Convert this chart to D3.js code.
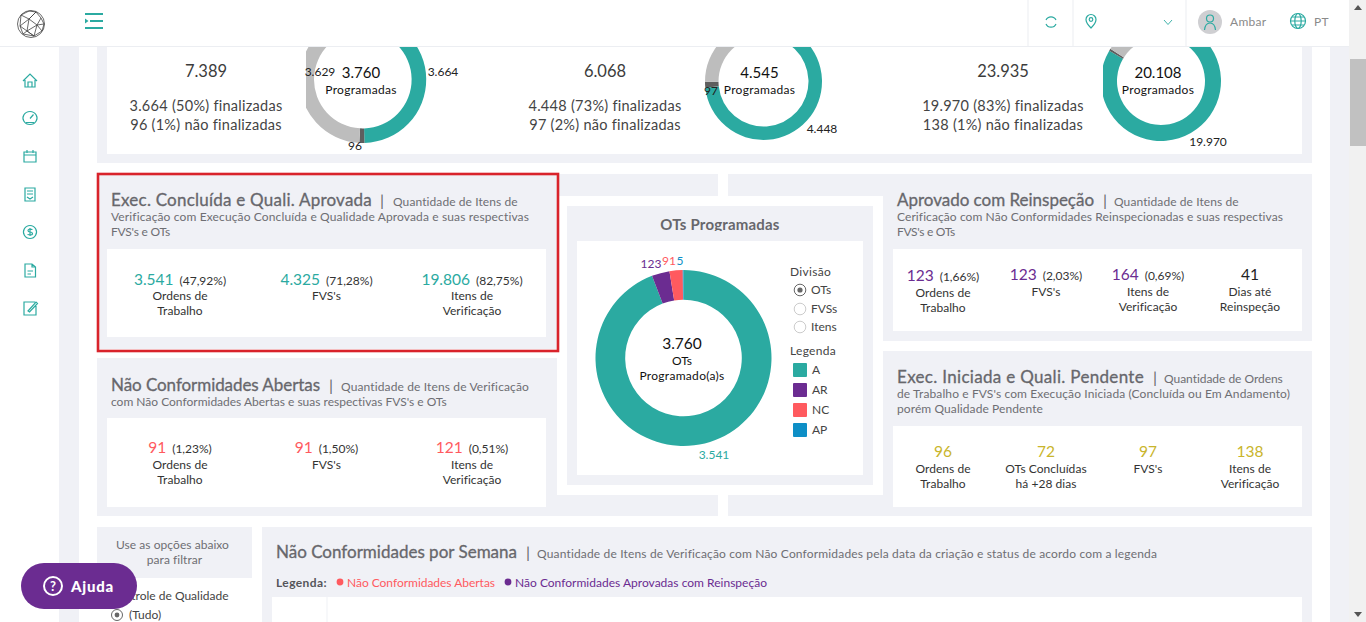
<!DOCTYPE html>
<html lang="pt">
<head>
<meta charset="utf-8">
<script src="https://cdn.jsdelivr.net/npm/d3@7"></script>
<style>
html,body{margin:0;padding:0;background:#fff;overflow:hidden}
svg{display:block}
text{font-family:Lato,"Noto Sans",sans-serif}
</style>
</head>
<body>
<svg id="c" width="1366" height="622"></svg>
<script>
// ---------- data ----------
const statusColors = ["#2BAAA1","#5E5E5E","#BDBDBD"];
const donutFirst = [3664, 96, 3629];
const donutSecond = [4448, 97, 1523];
const donutThird = [19970, 138, 3827];
const mainCategories = ["A","AR","NC","AP"];
const mainValues = [3541, 123, 91, 5];
const mainColors = ["#2BAAA1","#6B2C91","#FF5A5F","#0E8FC6"];
const divisionOptions = ["OTs","FVSs","Itens"];
const summaryTotals = ["7.389","6.068","23.935"];
const summaryDone = ["3.664 (50%) finalizadas","4.448 (73%) finalizadas","19.970 (83%) finalizadas"];
const summaryOpen = ["96 (1%) não finalizadas","97 (2%) não finalizadas","138 (1%) não finalizadas"];
const execValues = ["3.541","4.325","19.806"];
const execPercents = ["(47,92%)","(71,28%)","(82,75%)"];
const openValues = ["91","91","121"];
const openPercents = ["(1,23%)","(1,50%)","(0,51%)"];
const reinspValues = ["123","123","164","41"];
const reinspPercents = ["(1,66%)","(2,03%)","(0,69%)",""];
const pendingValues = ["96","72","97","138"];
const labelsThree = [["Ordens de","Trabalho"],["FVS's"],["Itens de","Verificação"]];
const labelsReinsp = [["Ordens de","Trabalho"],["FVS's"],["Itens de","Verificação"],["Dias até","Reinspeção"]];
const labelsPending = [["Ordens de","Trabalho"],["OTs Concluídas","há +28 dias"],["FVS's"],["Itens de","Verificação"]];

const PANEL="#F0F1F6", TEAL="#2BAAA1", PURPLE="#6B2C91", RED="#FF5A5F", YELLOW="#C9B52C", INK="#333", MUTED="#6E6E73";
const svg=d3.select("#c");
const defs=svg.append("defs");
let clipId=0;
function box(x0,y0,x1,y1,fill,parent){return (parent||svg).append("rect").attr("x",x0).attr("y",y0).attr("width",x1-x0).attr("height",y1-y0).attr("fill",fill);}
function txt(x,y,s,o={}){
  const t=(o.parent||svg).append("text").attr("x",x).attr("y",y).attr("text-anchor",o.a||"start")
   .attr("font-size",o.size||12).attr("font-weight",o.w||400).attr("fill",o.c||INK).text(s);
  if(o.ls!==undefined) t.style("letter-spacing",o.ls+"px");
  if(o.fit){ const n=t.node().getComputedTextLength(); t.style("letter-spacing",((o.fit-n)/s.length)+"px"); }
  return t;
}
// page background
box(59,46,79,622,PANEL);
box(1330,46,1349,622,PANEL);
// panels
box(97,46,1312,163,PANEL); box(107,46,1302,154,"#fff");
box(97,174,718,349,PANEL); box(107,249,546,337,"#fff");
box(97,358,718,516,PANEL); box(107,418,546,507,"#fff");
box(728,174,1312,341,PANEL); box(893,249,1302,331,"#fff");
box(728,351,1312,516,PANEL); box(893,426,1302,507,"#fff");
box(557,196,883,495,"#fff"); box(567,206,873,485,PANEL); box(577,241,863,475,"#fff");
box(97,527,252,578,PANEL);
box(262,527,1312,622,PANEL); box(272,597,1302,622,"#fff");
box(326.5,597,327.5,622,PANEL);

// donuts
const pie=d3.pie().sort(null);
function donut(cx,cy,ro,ri,vals,cols,clip){
  const id="cl"+(clipId++);
  defs.append("clipPath").attr("id",id).append("rect").attr("x",clip[0]).attr("y",clip[1]).attr("width",clip[2]-clip[0]).attr("height",clip[3]-clip[1]);
  const arc=d3.arc().outerRadius(ro).innerRadius(ri);
  svg.append("g").attr("clip-path",`url(#${id})`).append("g").attr("transform",`translate(${cx},${cy})`)
    .selectAll("path").data(pie(vals)).join("path").attr("d",arc).attr("fill",(d,i)=>cols[i]);
}
donut(362.8,79.6,63.4,48.8,donutFirst,statusColors,[306,0,440,160]);
donut(763.5,81.5,58.5,45,donutSecond,statusColors,[700,0,830,160]);
donut(1161,81,60,44,donutThird,statusColors,[1103,0,1230,160]);
donut(683.5,358,88,58.3,mainValues,mainColors,[590,260,780,450]);

// summary text
[206,605,1003].forEach((cx,i)=>{
  txt(cx,77,summaryTotals[i],{a:"middle",size:16.5,c:"#3c3c3c"});
  txt(cx,111,summaryDone[i],{a:"middle",size:14.5,c:"#444",ls:.27});
  txt(cx,130,summaryOpen[i],{a:"middle",size:14.5,c:"#444",ls:.27});
});
const topLabels=[[320,76,"3.629"],[443,76,"3.664"],[355,150,"96"],[711,95,"97"],[822,133,"4.448"],[1208,146,"19.970"]];
topLabels.forEach(d=>txt(d[0],d[1],d[2],{a:"middle",size:12,c:"#222"}));
[[361,"3.760","Programadas"],[759.5,"4.545","Programadas"],[1158,"20.108","Programados"]].forEach(d=>{
  txt(d[0],78,d[1],{a:"middle",size:15,c:"#111"});
  txt(d[0],94,d[2],{a:"middle",size:12,c:"#111",ls:.3});
});

// card header: title, separator and first subtitle piece, then the wrapped lines
function header(x,y,title,titleW,barX,subX,subW,first,lines){
  txt(x,y,title,{size:17,c:"#67676c",fit:titleW}).attr("stroke","#67676c").attr("stroke-width",.3);
  txt(barX,y,"|",{size:16,c:"#67676c"});
  txt(subX,y,first,{size:12,c:MUTED,fit:subW});
  lines.forEach((l,i)=>txt(x,y+15+15*i,l[0],{size:12,c:MUTED,fit:l[1]}));
}
header(111,206,"Exec. Concluída e Quali. Aprovada",261,380,393,125,"Quantidade de Itens de",[["Verificação com Execução Concluída e Qualidade Aprovada e suas respectivas",418],["FVS's e OTs",59]]);
header(111,391,"Não Conformidades Abertas",209,329,341,188,"Quantidade de Itens de Verificação",[["com Não Conformidades Abertas e suas respectivas FVS's e OTs",336]]);
header(897,206,"Aprovado com Reinspeção",197,1103,1114,125,"Quantidade de Itens de",[["Cerificação com Não Conformidades Reinspecionadas e suas respectivas",386],["FVS's e OTs",58]]);
header(897,383,"Exec. Iniciada e Quali. Pendente",247,1153,1164,119,"Quantidade de Ordens",[["de Trabalho e FVS's com Execução Iniciada (Concluída ou Em Andamento)",393],["porém Qualidade Pendente",146]]);
header(276,558,"Não Conformidades por Semana",241,526,537,620,"Quantidade de Itens de Verificação com Não Conformidades pela data da criação e status de acordo com a legenda",[]);

// metrics
function metric(cx,y,val,pct,col,labels,ly){
  const t=svg.append("text").attr("x",cx).attr("y",y).attr("text-anchor","middle");
  t.append("tspan").attr("font-size",15.5).attr("fill",col).text(val);
  if(pct) t.append("tspan").attr("font-size",12).attr("fill","#333").attr("dx",6).text(pct);
  labels.forEach((l,i)=>txt(cx,(ly||y+16)+15*i,l,{a:"middle",size:12,c:"#333",ls:.05}));
}
[180,326.5,472].forEach((cx,i)=>metric(cx,285,execValues[i],execPercents[i],TEAL,labelsThree[i],300));
[180,326.5,472].forEach((cx,i)=>metric(cx,453,openValues[i],openPercents[i],RED,labelsThree[i],469));
[943,1046,1148,1250].forEach((cx,i)=>metric(cx,i==0?281:280,reinspValues[i],reinspPercents[i],i==3?"#222":PURPLE,labelsReinsp[i],i==0?297:296));
[943,1046,1148,1250].forEach((cx,i)=>metric(cx,457,pendingValues[i],"",YELLOW,labelsPending[i],473));

// center card
defs.append("clipPath").attr("id","ttl").append("rect").attr("x",570).attr("y",206).attr("width",300).attr("height",25);
txt(720,230,"OTs Programadas",{a:"middle",size:15,w:700,c:"#67676c",ls:.2}).attr("clip-path","url(#ttl)");
const mainFmt=[["3.541",714,459],["123",651,268],["91",669,265],["5",680,265]];
mainFmt.forEach((d,i)=>txt(d[1],d[2],d[0],{a:"middle",size:12,c:mainColors[i]}));
txt(682,349,"3.760",{a:"middle",size:15.5,c:"#111"});
txt(682,365,"OTs",{a:"middle",size:12,c:"#111"});
txt(682,380,"Programado(a)s",{a:"middle",size:12,c:"#111",ls:.3});
txt(790,276,"Divisão",{size:12,c:"#444",ls:.3});
divisionOptions.forEach((o,i)=>{
  const y=[290,309,327][i];
  svg.append("circle").attr("cx",800).attr("cy",y).attr("r",5.8).attr("fill","#fff").attr("stroke",i==0?"#666":"#ccc").attr("stroke-width",1);
  if(i==0) svg.append("circle").attr("cx",800).attr("cy",y).attr("r",2.6).attr("fill","#666");
  txt(811,y+4,o,{size:12,c:"#444"});
});
txt(790,355,"Legenda",{size:12,c:"#444",ls:.3});
mainCategories.forEach((c,i)=>{
  svg.append("rect").attr("x",793).attr("y",363+20*i).attr("width",14).attr("height",14).attr("rx",1).attr("fill",mainColors[i]);
  txt(812,374+20*i,c,{size:12,c:"#444"});
});

// bottom
txt(172.5,549,"Use as opções abaixo",{a:"middle",size:12,c:MUTED,ls:.05});
txt(174.5,564,"para filtrar",{a:"middle",size:12,c:MUTED,ls:.05});
txt(110,600,"Controle de Qualidade",{size:12,c:"#444"});
svg.append("circle").attr("cx",117).attr("cy",615).attr("r",5.5).attr("fill","#fff").attr("stroke","#666");
svg.append("circle").attr("cx",117).attr("cy",615).attr("r",2.4).attr("fill","#666");
txt(129,619,"(Tudo)",{size:12,c:"#444"});
txt(276,587,"Legenda:",{size:12,w:700,c:"#55555a",fit:51});
svg.append("circle").attr("cx",340).attr("cy",582).attr("r",3.4).attr("fill",RED);
txt(347,587,"Não Conformidades Abertas",{size:12,c:RED,fit:148});
svg.append("circle").attr("cx",508).attr("cy",582).attr("r",3.4).attr("fill",PURPLE);
txt(515,587,"Não Conformidades Aprovadas com Reinspeção",{size:12,c:PURPLE,fit:252});

// red highlight
svg.append("rect").attr("x",98).attr("y",174).attr("width",460).attr("height",177).attr("fill","none").attr("stroke","#D9232B").attr("stroke-width",2.6);

// header bar
box(0,0,1349,46,"#fff");
box(0,46,1349,47,"#eceef2");
box(1349,0,1366,622,"#F1F1F1");
box(1350,59,1366,146,"#C1C1C1");
svg.append("path").attr("d","M1354 10 L1358 5 L1362 10Z").attr("fill","#555");
svg.append("path").attr("d","M1354 612 L1358 617 L1362 612Z").attr("fill","#555");
[1027.5,1072.5,1185.5].forEach(x=>box(x,0,x+1,46,"#eceef2"));

// icons
svg.append("circle").attr("cx",1210).attr("cy",22).attr("r",12).attr("fill","#CFCFD2");
const ic=svg.append("g").attr("fill","none").attr("stroke",TEAL).attr("stroke-width",1.2);
box(85,13,103,15,TEAL); box(90,20,103,22,TEAL); box(85,27,103,29,TEAL);
svg.append("path").attr("d","M85 18.500 L88.500 21 L85 23.500Z").attr("fill",TEAL);
const iconPaths=[
 "M23 81 L30 74 L37 81 M25 80 V87 H35 V80 M28 87 V82 H32 V87",
 "M30 111.500 A7 6.500 0 1 1 29.990 111.500 M30 118.500 L33.500 114.500 M26 122.500 H34",
 "M24 152 H36 V162 H24 Z M24 155 H36 M27 150 V153 M33 150 V153",
 "M25 188 H35 V201 H25 Z M27 191 H33 M27 194 H33 M27 197 L30 199 L33 197",
 "M30 225.500 A6.500 6.500 0 1 1 29.990 225.500 M32.500 229.500 Q28 228.500 28 230.500 Q28 232 30 232 Q32.500 232 32.500 234 Q32 235.500 27.500 234.500 M30 228 V236",
 "M25 264 H32 L35.500 267 V277 H25 Z M32 264 V267 H35.500 M27.500 271 H33 M27.500 274 H31",
 "M35 302 H24 V315 H36 V306 M28 311 L36 302 L37.500 303.500 L29.500 312 Z"
];
iconPaths.forEach(d=>ic.append("path").attr("d",d));
ic.append("path").attr("d","M1046 20 A5.500 5.500 0 0 1 1056 20 M1056 24 A5.500 5.500 0 0 1 1046 24");
ic.append("path").attr("d","M1091 28 C1087 24 1086 21 1086 19.500 A5 5 0 0 1 1096 19.500 C1096 21 1095 24 1091 28 Z");
ic.append("circle").attr("cx",1091).attr("cy",19.5).attr("r",1.8);
ic.append("path").attr("d","M1164 20 L1168 24.500 L1172 20").attr("stroke-width",.9);
ic.append("circle").attr("cx",1210).attr("cy",18.5).attr("r",3.5);
ic.append("path").attr("d","M1204.500 30 C1205 25 1207 23 1210 23 C1213 23 1215 25 1215.500 30");
txt(1230,26,"Ambar",{size:12,c:"#8a8a8a",ls:.3});
ic.append("circle").attr("cx",1298).attr("cy",21).attr("r",7.500);
ic.append("ellipse").attr("cx",1298).attr("cy",21).attr("rx",3.2).attr("ry",7.500);
ic.append("path").attr("d","M1290.500 21 H1305.500 M1292 17 H1304 M1292 25 H1304");
txt(1314,26,"PT",{size:12,c:"#8a8a8a",ls:.3});

// logo
const logo=svg.append("g").attr("transform","translate(31,24)").attr("fill","none").attr("stroke","#444").attr("stroke-width",.8);
logo.append("circle").attr("r",13.5);
["M-10 -9 L-2 -5 L5 -12 L10 -6 L6 1 L-2 -5 L-11 2 L-10 -9 L-2 -13 L5 -12",
 "M-11 2 L-4 7 L6 1 L11 7 L3 12 L-4 7 L-8 10 L-11 2",
 "M-2 -5 L-4 7 M6 1 L3 12 M10 -6 L13 0 L11 7 M-8 10 L3 12 M-2 -5 L5 -12 M6 1 L13 0 M-4 7 L3 12"
].forEach(d=>logo.append("path").attr("d",d));

// help button
svg.append("rect").attr("x",21).attr("y",563).attr("width",116).attr("height",46).attr("rx",23).attr("fill",PURPLE);
svg.append("circle").attr("cx",53).attr("cy",586).attr("r",9).attr("fill","none").attr("stroke","#fff").attr("stroke-width",2);
txt(53,591,"?",{a:"middle",size:13,w:700,c:"#fff"});
txt(71,592,"Ajuda",{size:15,w:900,c:"#fff",fit:43});
</script>
</body>
</html>
